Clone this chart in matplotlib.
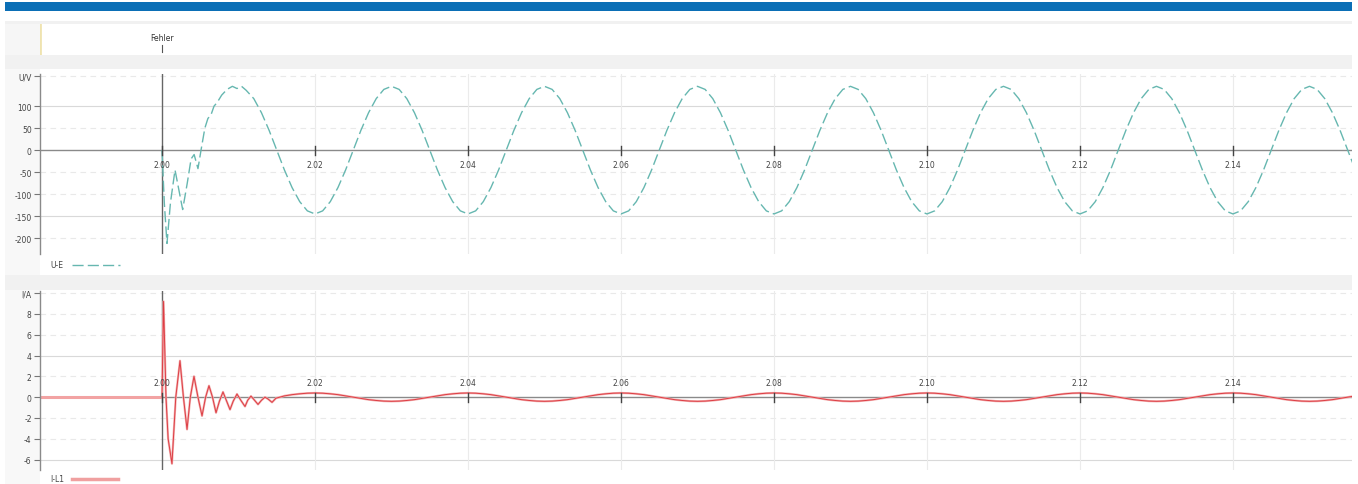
import numpy as np
import matplotlib
matplotlib.use("Agg")
import matplotlib.pyplot as plt
from matplotlib.patches import Rectangle

# ---------------- data ----------------
x_ticks = [2.00, 2.02, 2.04, 2.06, 2.08, 2.10, 2.12, 2.14]
x_tick_labels = ["2.00", "2.02", "2.04", "2.06", "2.08", "2.10", "2.12", "2.14"]

u_ticks = [168, 100, 50, 0, -50, -100, -150, -200]
u_tick_labels = ["U/V", "100", "50", "0", "-50", "-100", "-150", "-200"]
i_ticks = [10, 8, 6, 4, 2, 0, -2, -4, -6]
i_tick_labels = ["I/A", "8", "6", "4", "2", "0", "-2", "-4", "-6"]

# voltage U-E: transient after the fault (t, V)
u_trans_t = [2.0000, 2.0003, 2.00065, 2.0011, 2.0017, 2.0022, 2.0027, 2.0033,
             2.0038, 2.0042, 2.0047, 2.0051, 2.0056, 2.0060, 2.0064, 2.0068,
             2.0072, 2.0078, 2.0085, 2.0092, 2.0098, 2.0104, 2.0110]
u_trans_v = [0, -120, -212, -120, -45, -90, -135, -75,
             -20, -10, -42, 0, 50, 72, 80, 100,
             108, 125, 138, 145, 140, 145, 136]
# voltage U-E: steady state, sampled every 1 ms starting at 2.012 s
u_steady_start = 2.012
u_steady_v = [117, 85, 45, 0, -45, -85, -117, -138,
              -145, -138, -117, -85, -45, 0, 45, 85, 117, 138, 145, 138, 117, 85, 45, 0, -45, -85, -117, -138,
              -145, -138, -117, -85, -45, 0, 45, 85, 117, 138, 145, 138, 117, 85, 45, 0, -45, -85, -117, -138,
              -145, -138, -117, -85, -45, 0, 45, 85, 117, 138, 145, 138, 117, 85, 45, 0, -45, -85, -117, -138,
              -145, -138, -117, -85, -45, 0, 45, 85, 117, 138, 145, 138, 117, 85, 45, 0, -45, -85, -117, -138,
              -145, -138, -117, -85, -45, 0, 45, 85, 117, 138, 145, 138, 117, 85, 45, 0, -45, -85, -117, -138,
              -145, -138, -117, -85, -45, 0, 45, 85, 117, 138, 145, 138, 117, 85, 45, 0, -45, -85, -117, -138,
              -145, -138, -117, -85, -45, 0, 45, 85, 117, 138, 145, 138, 117, 85, 45, 0, -45]

# current I-L1: pre-fault and transient (t, A)
i_pre_t = [1.9840, 2.0000]
i_pre_v = [0, 0]
i_trans_t = [2.0000, 2.0002, 2.00052, 2.0008, 2.0013, 2.0018, 2.00235, 2.0028,
             2.00327, 2.0037, 2.00418, 2.0047, 2.00523, 2.0057, 2.00614, 2.0066,
             2.00706, 2.0075, 2.00797, 2.0084, 2.00889, 2.0093, 2.0098, 2.0103,
             2.01085, 2.0112, 2.01163, 2.0121, 2.01255, 2.0130, 2.01346, 2.0139,
             2.01438, 2.0149, 2.0154]
i_trans_v = [0, 9.2, 0, -4.0, -6.4, 0, 3.5, 0,
             -3.1, 0, 2.0, 0, -1.8, 0, 1.1, 0,
             -1.5, -0.4, 0.5, -0.3, -1.2, -0.4, 0.3, -0.3,
             -0.9, -0.3, 0.1, -0.3, -0.7, -0.3, 0.0, -0.2,
             -0.5, -0.1, 0.0]
# current I-L1: steady state, sampled every 1 ms starting at 2.016 s
i_steady_start = 2.016
i_steady_v = [0.12, 0.24, 0.32, 0.38,
              0.40, 0.38, 0.32, 0.24, 0.12, 0, -0.12, -0.24, -0.32, -0.38, -0.40, -0.38, -0.32, -0.24, -0.12, 0, 0.12, 0.24, 0.32, 0.38,
              0.40, 0.38, 0.32, 0.24, 0.12, 0, -0.12, -0.24, -0.32, -0.38, -0.40, -0.38, -0.32, -0.24, -0.12, 0, 0.12, 0.24, 0.32, 0.38,
              0.40, 0.38, 0.32, 0.24, 0.12, 0, -0.12, -0.24, -0.32, -0.38, -0.40, -0.38, -0.32, -0.24, -0.12, 0, 0.12, 0.24, 0.32, 0.38,
              0.40, 0.38, 0.32, 0.24, 0.12, 0, -0.12, -0.24, -0.32, -0.38, -0.40, -0.38, -0.32, -0.24, -0.12, 0, 0.12, 0.24, 0.32, 0.38,
              0.40, 0.38, 0.32, 0.24, 0.12, 0, -0.12, -0.24, -0.32, -0.38, -0.40, -0.38, -0.32, -0.24, -0.12, 0, 0.12, 0.24, 0.32, 0.38,
              0.40, 0.38, 0.32, 0.24, 0.12, 0, -0.12, -0.24, -0.32, -0.38, -0.40, -0.38, -0.32, -0.24, -0.12, 0, 0.12, 0.24, 0.32, 0.38,
              0.40, 0.38, 0.32, 0.24, 0.12, 0, -0.12, -0.24, -0.32, -0.38, -0.40, -0.38, -0.32, -0.24, -0.12, 0, 0.12]

u_t = u_trans_t + [round(u_steady_start + 0.001 * k, 4) for k in range(len(u_steady_v))]
u_v = u_trans_v + u_steady_v
i_t = i_trans_t + [round(i_steady_start + 0.001 * k, 4) for k in range(len(i_steady_v))]
i_v = i_trans_v + i_steady_v

fault_time = 2.00
fault_label = "Fehler"

# ---------------- layout ----------------
W, H = 1358, 485
fig = plt.figure(figsize=(W / 100, H / 100), dpi=100)
fig.patch.set_facecolor("white")


def rect_px(x0, y0, x1, y1, color, z=0):
    fig.add_artist(Rectangle((x0 / W, 1 - y1 / H), (x1 - x0) / W, (y1 - y0) / H,
                             transform=fig.transFigure, facecolor=color,
                             edgecolor="none", zorder=z))


def ax_px(x0, y0, x1, y1):
    a = fig.add_axes([x0 / W, 1 - y1 / H, (x1 - x0) / W, (y1 - y0) / H])
    a.patch.set_alpha(0)
    return a


rect_px(5, 3, 1352, 12, "#0b6fb6")
rect_px(5, 22, 1352, 485, "#f1f1f1")
rect_px(5, 25, 40, 56, "#f6f6f6")
rect_px(40, 25, 1352, 56, "#ffffff")
rect_px(5, 70, 40, 276, "#f8f8f8")
rect_px(40, 70, 1352, 276, "#ffffff")
rect_px(5, 291, 40, 485, "#f8f8f8")
rect_px(40, 291, 1352, 485, "#ffffff")

XL = (1.98405, 2.15556)
FS = 5.5

# marker strip
axm = ax_px(40, 25, 1352, 56)
axm.set_xlim(*XL)
axm.set_ylim(0, 1)
axm.axis("off")
axm.axvline(XL[0], color="#efe3b0", lw=2)
axm.text(fault_time, 0.58, fault_label, ha="center", va="center", fontsize=FS, color="#333333")
axm.plot([fault_time, fault_time], [0.1, 0.32], color="#555555", lw=0.8)


def style_axes(ax, yl, yt, ytl, major, lab_y):
    ax.set_xlim(*XL)
    ax.set_ylim(*yl)
    for s in ["top", "right", "bottom"]:
        ax.spines[s].set_visible(False)
    ax.spines["left"].set_color("#8a8a8a")
    ax.spines["left"].set_linewidth(1.0)
    ax.set_xticks([])
    ax.set_yticks(yt)
    ax.set_yticklabels(ytl, fontsize=FS, color="#444444")
    ax.tick_params(axis="y", length=4, width=0.8, color="#777777", pad=2)
    for v in yt:
        if v in major:
            ax.axhline(v, color="#d9d9d9", lw=0.8, zorder=0)
        elif v != 0:
            ax.axhline(v, color="#e9e9e9", lw=0.8, ls=(0, (5, 4)), zorder=0)
    for t in x_ticks[1:]:
        ax.axvline(t, color="#ebebeb", lw=0.8, zorder=0)
    ax.axhline(0, color="#8a8a8a", lw=1.0, zorder=1)
    ax.axvline(fault_time, color="#666666", lw=1.0, zorder=1)
    dy = (yl[1] - yl[0]) * 0.025
    for t, lab in zip(x_ticks, x_tick_labels):
        ax.plot([t, t], [-dy, dy], color="#444444", lw=1.0, zorder=4)
        ax.text(t, lab_y, lab, ha="center", va="center", fontsize=FS, color="#444444", zorder=5)


# top: voltage
axu = ax_px(40, 75, 1352, 255)
style_axes(axu, (-236, 173), u_ticks, u_tick_labels, [100, -150], -32)
axu.plot(u_t, u_v, color="#66b7b0", lw=1.0, ls=(0, (8, 3)), zorder=3)

# bottom: current
axi = ax_px(40, 292, 1352, 471)
style_axes(axi, (-7.0, 10.2), i_ticks, i_tick_labels, [4, -6], 1.45)
axi.plot(i_pre_t, i_pre_v, color="#f2a3a3", lw=2.2, zorder=2, solid_capstyle="butt")
axi.plot(i_t, i_v, color="#f3b0b0", lw=1.6, zorder=2)
axi.plot(i_t, i_v, color="#dd3d44", lw=0.7, zorder=3)

# legends
axl = ax_px(40, 256, 1352, 276)
axl.set_xlim(40, 1352)
axl.set_ylim(276, 256)
axl.axis("off")
axl.text(50, 266, "U-E", fontsize=FS, va="center", ha="left", color="#444444")
axl.plot([72, 120], [266, 266], color="#66b7b0", lw=1.0, ls=(0, (8, 3)))

axl2 = ax_px(40, 474, 1352, 485)
axl2.set_xlim(40, 1352)
axl2.set_ylim(485, 474)
axl2.axis("off")
axl2.text(50, 479.5, "I-L1", fontsize=FS, va="center", ha="left", color="#444444")
axl2.plot([72, 118], [480, 480], color="#f0a0a0", lw=2.5)

fig.savefig("out.png", dpi=100)
